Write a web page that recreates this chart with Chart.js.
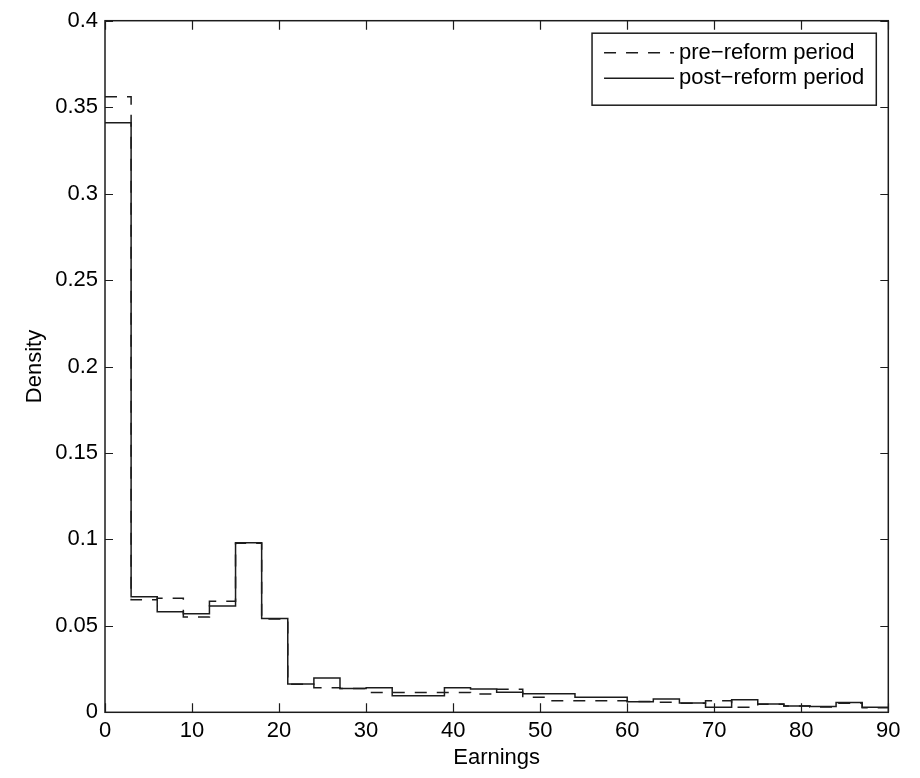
<!DOCTYPE html>
<html>
<head>
<meta charset="utf-8">
<script src="https://cdn.jsdelivr.net/npm/chart.js@4.4.1/dist/chart.umd.min.js"></script>
<style>
  html, body { margin: 0; padding: 0; background: #fff; }
  #wrap { width: 920px; height: 778px; }
</style>
</head>
<body>
<div id="wrap"><canvas id="histChart" width="920" height="778"></canvas></div>
<script>
'use strict';

// bin edges of the earnings histogram (width 3)
const binEdges = [0, 3, 6, 9, 12, 15, 18, 21, 24, 27, 30, 33, 36, 39, 42, 45,
  48, 51, 54, 57, 60, 63, 66, 69, 72, 75, 78, 81, 84, 87, 90];

// density per bin
const preReform = [0.356, 0.0651, 0.0659, 0.0551, 0.0642, 0.0978, 0.0540, 0.0162,
  0.0142, 0.0138, 0.0114, 0.0114, 0.0114, 0.0114, 0.0106, 0.0133, 0.0087, 0.0067,
  0.0067, 0.0067, 0.0062, 0.0058, 0.0052, 0.0067, 0.0029, 0.0046, 0.0036, 0.0031,
  0.0053, 0.0027];
const postReform = [0.341, 0.0669, 0.0582, 0.0570, 0.0615, 0.0981, 0.0542, 0.0164,
  0.0199, 0.0137, 0.0142, 0.0096, 0.0096, 0.0142, 0.0135, 0.0116, 0.0108, 0.0108,
  0.0087, 0.0087, 0.0061, 0.0077, 0.0054, 0.0029, 0.0072, 0.0048, 0.0037, 0.0033,
  0.0056, 0.0029];

const xTicks = [0, 10, 20, 30, 40, 50, 60, 70, 80, 90];
const yTicks = [0, 0.05, 0.1, 0.15, 0.2, 0.25, 0.3, 0.35, 0.4];
const seriesNames = ['pre\u2212reform period', 'post\u2212reform period'];

const FONT = '"Liberation Sans", Arial, Helvetica, sans-serif';
const INK = '#1c1c1c';

// stairs: each value starts at its left bin edge, last one carried to the right edge
const toSteps = vals => binEdges.map((x, i) => ({ x: x, y: vals[Math.min(i, vals.length - 1)] }));

// matlab-like box: frame, inward ticks on all sides, legend in the corner
const boxPlugin = {
  id: 'matlabBox',
  afterDraw(chart) {
    const { ctx, chartArea: a, scales } = chart;
    ctx.save();
    ctx.strokeStyle = INK;
    ctx.lineWidth = 1.5;
    ctx.strokeRect(a.left, a.top, a.right - a.left, a.bottom - a.top);

    ctx.beginPath();
    scales.x.ticks.forEach(t => {
      const px = Math.round(scales.x.getPixelForValue(t.value)) + 0.5;
      ctx.moveTo(px, a.bottom); ctx.lineTo(px, a.bottom - 9);
      ctx.moveTo(px, a.top); ctx.lineTo(px, a.top + 9);
    });
    scales.y.ticks.forEach(t => {
      const py = Math.round(scales.y.getPixelForValue(t.value)) + 0.5;
      ctx.moveTo(a.left, py); ctx.lineTo(a.left + 8, py);
      ctx.moveTo(a.right, py); ctx.lineTo(a.right - 8, py);
    });
    ctx.lineWidth = 1.2;
    ctx.stroke();

    // legend
    const sets = chart.data.datasets;
    ctx.font = '22px ' + FONT;
    const textW = Math.max(...sets.map(d => ctx.measureText(d.label).width));
    const boxW = 12 + 70 + 5 + textW + 12;
    const boxH = 72;
    const bx = a.right - 12 - boxW;
    const by = a.top + 12.5;
    ctx.fillStyle = '#fff';
    ctx.fillRect(bx, by, boxW, boxH);
    ctx.lineWidth = 1.5;
    ctx.strokeStyle = INK;
    ctx.strokeRect(bx, by, boxW, boxH);
    sets.forEach((d, i) => {
      const ly = by + 19.5 + i * 25.5;
      ctx.beginPath();
      ctx.setLineDash(d.borderDash || []);
      ctx.lineWidth = d.borderWidth;
      ctx.strokeStyle = d.borderColor;
      ctx.moveTo(bx + 12, ly);
      ctx.lineTo(bx + 82, ly);
      ctx.stroke();
      ctx.setLineDash([]);
      ctx.fillStyle = '#000';
      ctx.textBaseline = 'middle';
      ctx.textAlign = 'left';
      ctx.fillText(d.label, bx + 87, ly);
    });
    ctx.restore();
  }
};

const ctx = document.getElementById('histChart');

new Chart(ctx, {
  type: 'line',
  data: {
    datasets: [{
      label: seriesNames[0],
      data: toSteps(preReform),
      stepped: 'before',
      borderColor: INK,
      borderWidth: 1.5,
      borderDash: [12, 10],
      pointRadius: 0,
      fill: false
    }, {
      label: seriesNames[1],
      data: toSteps(postReform),
      stepped: 'before',
      borderColor: INK,
      borderWidth: 1.5,
      pointRadius: 0,
      fill: false
    }]
  },
  options: {
    responsive: false,
    animation: false,
    layout: { padding: { left: 0, right: 31.7, top: 20.7, bottom: 0 } },
    scales: {
      x: {
        type: 'linear',
        min: 0,
        max: 90,
        afterBuildTicks: s => { s.ticks = xTicks.map(v => ({ value: v })); },
        afterFit: s => { s.height = 65.7; },
        grid: { display: false, drawTicks: false },
        border: { display: false },
        ticks: {
          color: '#000',
          font: { family: FONT, size: 22 },
          padding: 5,
          maxRotation: 0,
          callback: v => String(v)
        },
        title: {
          display: true,
          text: 'Earnings',
          color: '#000',
          font: { family: FONT, size: 22 },
          padding: { top: 0, bottom: 7 }
        }
      },
      y: {
        type: 'linear',
        min: 0,
        max: 0.4,
        afterBuildTicks: s => { s.ticks = yTicks.map(v => ({ value: v })); },
        afterFit: s => { s.width = 105; },
        grid: { display: false, drawTicks: false },
        border: { display: false },
        ticks: {
          color: '#000',
          font: { family: FONT, size: 22 },
          padding: 7,
          callback: v => String(v)
        },
        title: {
          display: true,
          text: 'Density',
          color: '#000',
          font: { family: FONT, size: 22 },
          padding: { top: 22, bottom: 0 }
        }
      }
    },
    plugins: {
      legend: { display: false },
      tooltip: { enabled: false }
    }
  },
  plugins: [boxPlugin]
});
</script>
</body>
</html>
